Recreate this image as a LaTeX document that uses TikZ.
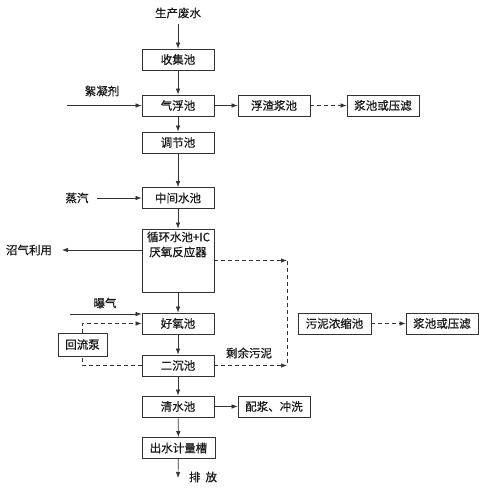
\documentclass[tikz,border=0pt]{standalone}
\usepackage{fontspec}
\setmainfont{Noto Sans CJK SC}[FakeBold=0.6]
\usetikzlibrary{arrows.meta}
\begin{document}
\begin{tikzpicture}[x=1pt,y=-1pt,
  every node/.style={font=\fontsize{11.5pt}{13pt}\selectfont, inner sep=0pt, text=black!90},
  box/.style={draw=black!80, line width=0.8pt, minimum width=72pt, minimum height=21pt},
  flow/.style={draw=black!80, line width=0.7pt, -{Latex[length=6pt,width=4.5pt]}},
  dflow/.style={flow, dash pattern=on 4pt off 3pt},
  dline/.style={draw=black!80, line width=0.7pt, dash pattern=on 4pt off 3pt}]
\useasboundingbox (0,0) rectangle (480,490);
\fill[white] (0,0) rectangle (480,490);
% text labels
\node (src) at (178,13) {生产废水};
\node (floc) at (102,91) {絮凝剂};
\node (steam) at (77,198) {蒸汽};
\node (biogas) at (29,250) {沼气利用};
\node (aer) at (105,303) {曝气};
\node (excess) at (249,353) {剩余污泥};
\node (out) at (203,477) {排\hspace{5pt}放};
% main column
\node[box] (c1) at (178,59.5) {收集池};
\node[box] (c2) at (178,105.5) {气浮池};
\node[box] (c3) at (178,142.5) {调节池};
\node[box] (c4) at (178,198) {中间水池};
\node[box, minimum height=63pt] (c5) at (178,260.5) {};
\node (c5a) at (178.5,237) {循环水池+IC};
\node (c5b) at (178,252) {厌氧反应器};
\node[box] (c6) at (178,323.5) {好氧池};
\node[box] (c7) at (178,365.5) {二沉池};
\node[box] (c8) at (178,406.5) {清水池};
\node[box, minimum width=73pt] (c9) at (178.5,448) {出水计量槽};
% side boxes
\node[box] (s1) at (274,105.5) {浮渣浆池};
\node[box] (s2) at (383,105.5) {浆池或压滤};
\node[box, minimum width=73pt] (s3) at (334.5,323.5) {污泥浓缩池};
\node[box] (s4) at (442,323.5) {浆池或压滤};
\node[box] (s5) at (274,406.5) {配浆、冲洗};
\node[box, minimum width=49pt, minimum height=23pt] (pump) at (82.5,344.5) {回流泵};
% coordinates
\coordinate (flocs) at (67,105.5);
\coordinate (steams) at (97,198);
\coordinate (gasend) at (62,250);
\coordinate (aers) at (70,314);
\coordinate (jt) at (287,260.5);
\coordinate (jb) at (287,365.5);
\coordinate (outend) at (178,478);
% main flow
\draw[flow] (src.south |- 0,24) -- (c1.north);
\draw[flow] (c1) -- (c2);
\draw[flow] (c2) -- (c3);
\draw[flow] (c3) -- (c4);
\draw[flow] (c4) -- (c5);
\draw[flow] (c5) -- (c6);
\draw[flow] (c6) -- (c7);
\draw[flow] (c7) -- (c8);
\draw[flow] (c8) -- (c9);
\draw[flow] (c9) -- (outend);
% side flows
\draw[flow] (flocs) -- (c2.west);
\draw[flow] (steams) -- (c4.west);
\draw[flow] (c5.west |- gasend) -- (gasend);
\draw[flow] (aers) -- (c6.west |- aers);
\draw[flow] (c2) -- (s1);
\draw[dflow] (s1) -- (s2);
\draw[flow] (c8) -- (s5);
\draw[dflow] (s3) -- (s4);
% sludge lines
\draw[dflow] (c5.east) -- (jt);
\draw[dflow] (c7.east) -- (jb);
\draw[dline] (jt) -- (jb);
% return pump
\draw[dline] (c7.west) -| (pump.south);
\draw[dflow] (pump.north) |- (c6.west);
\end{tikzpicture}
\end{document}
